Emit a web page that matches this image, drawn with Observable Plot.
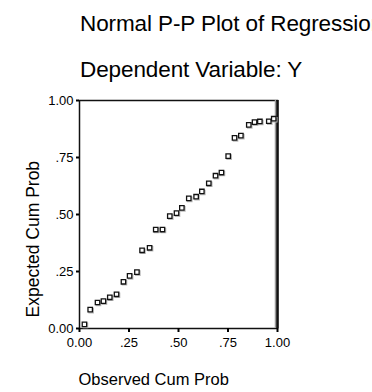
<!DOCTYPE html>
<html>
<head>
<meta charset="utf-8">
<script src="https://cdn.jsdelivr.net/npm/d3@7"></script>
<script src="https://cdn.jsdelivr.net/npm/@observablehq/plot@0.6"></script>
<style>
  html, body { margin: 0; padding: 0; background: #fff; width: 372px; height: 392px; overflow: hidden; }
  body { font-family: "Liberation Sans", Arial, sans-serif; color: #000; }
  .title, .sub { box-sizing: border-box; padding-left: 80px; font-size: 22.5px; line-height: 22px; white-space: nowrap; overflow: hidden; letter-spacing: -0.1px; }
  .title { height: 45px; padding-top: 13px; }
  .sub { height: 43px; padding-top: 14px; }
  #chart svg { display: block; }
</style>
</head>
<body>
<div class="title">Normal P-P Plot of Regression Standardized Residual</div>
<div class="sub">Dependent Variable: Y</div>
<div id="chart"></div>
<script>
const observedCumProb = [0.025, 0.054, 0.091, 0.121, 0.153, 0.187, 0.222, 0.253, 0.290, 0.316,
  0.354, 0.385, 0.419, 0.456, 0.490, 0.517, 0.552, 0.589, 0.618, 0.653,
  0.687, 0.717, 0.751, 0.783, 0.815, 0.855, 0.884, 0.911, 0.956, 0.981];
const expectedCumProb = [0.018, 0.083, 0.114, 0.120, 0.137, 0.150, 0.205, 0.231, 0.247, 0.343,
  0.354, 0.434, 0.434, 0.493, 0.506, 0.529, 0.571, 0.578, 0.601, 0.637,
  0.670, 0.684, 0.756, 0.836, 0.846, 0.893, 0.905, 0.908, 0.909, 0.920];
const tickValues = [0, 0.25, 0.5, 0.75, 1];
const tickLabels = ["0.00", ".25", ".50", ".75", "1.00"];
const xTitle = "Observed Cum Prob";
const yTitle = "Expected Cum Prob";

const points = observedCumProb.map((x, i) => ({x, y: expectedCumProb[i]}));
const fmt = v => tickLabels[tickValues.indexOf(v)];

const chart = Plot.plot({
  width: 372,
  height: 304,
  marginLeft: 79,
  marginRight: 95,
  marginTop: 12,
  marginBottom: 64,
  style: {fontFamily: '"Liberation Sans", Arial, sans-serif', background: "#fff", color: "#000"},
  x: {domain: [0, 1]},
  y: {domain: [0, 1]},
  marks: [
    Plot.frame({stroke: "#111", strokeWidth: 1.5}),
    Plot.ruleX([1], {stroke: "#999", strokeWidth: 1.5, dx: -2}),
    Plot.ruleX([1], {stroke: "#111", strokeWidth: 2.5}),
    Plot.axisX({ticks: tickValues, tickFormat: fmt, tickSize: 4, tickPadding: 5, strokeWidth: 2, fontSize: 13, label: null}),
    Plot.axisY({ticks: tickValues, tickFormat: fmt, tickSize: 3, tickPadding: 3, strokeWidth: 2, fontSize: 13, label: null}),
    Plot.dot(points, {x: "x", y: "y", symbol: "square", r: 2.5, stroke: "#bbb", strokeWidth: 1.2, dx: 1, dy: 1}),
    Plot.dot(points, {x: "x", y: "y", symbol: "square", r: 2.5, stroke: "#111", fill: "#fff", strokeWidth: 1.3}),
    Plot.text([xTitle], {frameAnchor: "bottom-left", textAnchor: "start", dx: -1, dy: 56, fontSize: 16.5, fill: "#000"}),
    Plot.text([yTitle], {frameAnchor: "bottom-left", textAnchor: "start", rotate: -90, dx: -41, dy: -11, fontSize: 17.5, fill: "#000"})
  ]
});
document.getElementById("chart").appendChild(chart);
</script>
</body>
</html>
